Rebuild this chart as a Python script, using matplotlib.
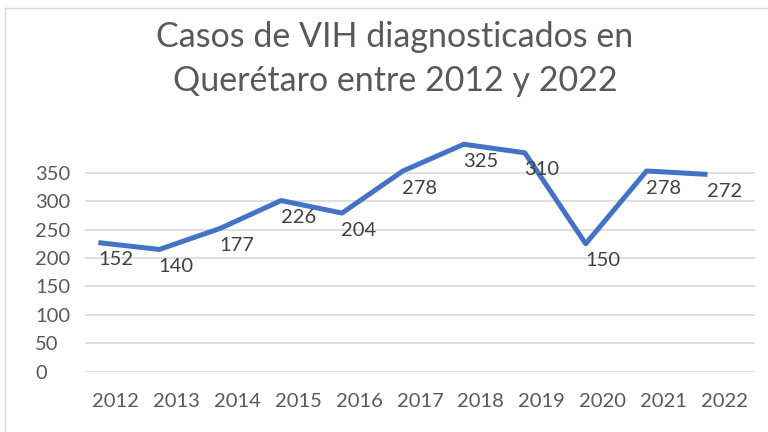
import matplotlib
matplotlib.use('Agg')
import matplotlib.pyplot as plt
import numpy as np

# 데이터
years = ['2012', '2013', '2014', '2015', '2016', '2017', '2018', '2019', '2020', '2021', '2022']
casos = [152, 140, 177, 226, 204, 278, 325, 310, 150, 278, 272]
y_ticks = [0, 50, 100, 150, 200, 250, 300, 350]

# 원본 그림에서 선은 값보다 75만큼 위, 0.28 카테고리만큼 왼쪽에 그려져 있음
line_shift = 75
x_shift = -0.28
label_drop = 30

plt.rcParams['font.family'] = ['Lato', 'DejaVu Sans']

fig = plt.figure(figsize=(7.68, 4.32), dpi=100)
ax = fig.add_axes([85 / 768, 0.1396, 670 / 768, 0.5528])

x = np.arange(len(years))
y = np.array(casos) + line_shift
ax.plot(x + x_shift, y, color='#4472C4', lw=3.6, solid_joinstyle='round',
        solid_capstyle='butt', clip_on=False, zorder=3)

for xi, yi, v in zip(x, y, casos):
    ax.text(xi, yi - label_drop, str(v), ha='center', va='center',
            fontsize=14.5, color='#404040', zorder=4)

ax.set_xlim(-0.5, len(years) - 0.5)
ax.set_ylim(0, 420)
ax.set_xticks(x)
ax.set_xticklabels(years)
ax.set_yticks(y_ticks)
ax.set_yticklabels([str(t) for t in y_ticks])
for lbl in ax.get_yticklabels():
    lbl.set_ha('left')

ax.tick_params(axis='y', length=0, pad=36, labelsize=14.5, labelcolor='#595959')
ax.tick_params(axis='x', length=0, pad=15, labelsize=14.5, labelcolor='#595959')
ax.grid(axis='y', color='#d9d9d9', lw=1.2)
ax.set_axisbelow(True)
for s in ax.spines.values():
    s.set_visible(False)

# 제목
fig.text(395 / 768, 0.863, 'Casos de VIH diagnosticados en\nQuerétaro entre 2012 y 2022',
         ha='center', va='center', fontsize=24.5, color='#595959', linespacing=1.45)

# 차트 영역 테두리 (위, 왼쪽)
fig.add_artist(plt.Line2D([5 / 768, 5 / 768], [0, 1 - 8 / 432], color='#d9d9d9', lw=1))
fig.add_artist(plt.Line2D([5 / 768, 1], [1 - 8 / 432, 1 - 8 / 432], color='#d9d9d9', lw=1))

fig.savefig('out.png', dpi=100)
